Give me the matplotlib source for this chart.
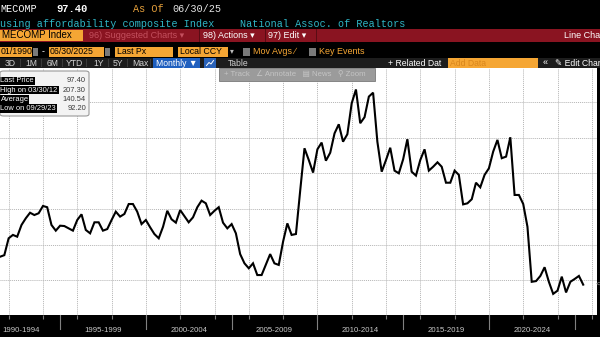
import numpy as np
import pandas as pd
import matplotlib
matplotlib.use("Agg")
import matplotlib.pyplot as plt
import matplotlib.dates as mdates
import matplotlib.transforms as mtransforms
from matplotlib.patches import Rectangle, FancyBboxPatch
from matplotlib.lines import Line2D

W, H = 600, 337

# quarterly housing affordability composite index, Q2 1991 .. Q2 2025
quarters = pd.date_range("1991-06-30", "2025-06-30", freq="QE")
affordability = [
    113.1, 114.0, 123.5,                      # 1991
    125.4, 124.4, 131.0, 134.8,               # 1992
    137.9, 136.6, 137.6, 141.7,               # 1993
    141.0, 131.0, 127.8, 130.6,               # 1994
    130.4, 129.1, 127.8, 133.8,               # 1995
    137.0, 128.2, 126.3, 132.5,               # 1996
    132.5, 127.8, 128.7, 133.8,               # 1997
    138.5, 135.7, 137.2, 142.8,               # 1998
    142.8, 138.5, 131.5, 133.8,               # 1999
    129.7, 125.9, 123.5, 130.0,               # 2000
    139.0, 134.2, 132.3, 139.4,               # 2001
    136.0, 132.5, 135.3, 141.0,               # 2002
    144.7, 143.2, 136.6, 139.0,               # 2003
    141.0, 132.3, 129.1, 131.5,               # 2004
    126.3, 114.6, 109.4, 106.6,               # 2005
    109.4, 102.8, 102.8, 108.8,               # 2006
    114.6, 109.4, 108.5, 121.6,               # 2007
    131.9, 125.4, 125.9, 150.7,               # 2008
    174.2, 167.6, 160.5, 173.6,               # 2009
    177.4, 167.2, 171.7, 182.6,               # 2010
    187.7, 177.9, 182.1, 199.5,               # 2011
    207.3, 188.3, 191.7, 203.3,               # 2012
    205.5, 177.9, 161.0, 167.6,               # 2013
    174.5, 161.6, 160.1, 168.0,               # 2014
    179.3, 161.0, 158.8, 167.6,               # 2015
    173.6, 161.6, 163.8, 166.3,               # 2016
    163.8, 154.8, 154.8, 161.6,               # 2017
    159.2, 142.6, 143.2, 145.5,               # 2018
    154.8, 152.2, 159.2, 162.9,               # 2019
    172.3, 178.9, 168.6, 169.5,               # 2020
    180.4, 147.9, 147.9, 142.8,               # 2021
    130.0, 99.0, 99.4, 102.3,                 # 2022
    107.2, 99.0, 92.2, 94.0,                  # 2023
    101.9, 93.0, 99.0, 100.6,                 # 2024
    102.3, 97.4,                              # 2025
]

band_labels = ["1990-1994", "1995-1999", "2000-2004", "2005-2009",
               "2010-2014", "2015-2019", "2020-2024"]
band_starts = [1990, 1995, 2000, 2005, 2010, 2015, 2020, 2025]

summary_rows = [("Last Price", "97.40"), ("High on 03/30/12", "207.30"),
                ("Average", "140.54"), ("Low on 09/29/23", "92.20")]

ORANGE = "#f5a634"
RED_BAR = "#8a1421"
MONO = ["Liberation Mono", "DejaVu Sans Mono"]
SANS = ["Liberation Sans", "DejaVu Sans"]


def box(fig, x0, y0, x1, y1, color, **kw):
    # rectangle in pixel coordinates, origin at top-left
    r = Rectangle((x0 / W, 1 - y1 / H), (x1 - x0) / W, (y1 - y0) / H,
                  transform=fig.transFigure, facecolor=color,
                  edgecolor=kw.pop("edgecolor", "none"), **kw)
    fig.patches.append(r)
    return r


def label(fig, x, y, s, color, size=6.5, ha="left", family=SANS, **kw):
    return fig.text(x / W, 1 - y / H, s, color=color, fontsize=size, ha=ha,
                    va="center", family=family, **kw)


fig = plt.figure(figsize=(W / 100, H / 100), dpi=100, facecolor="black")

# ---- chart area
ax = fig.add_axes([0, (H - 315) / H, 597 / W, 247 / H])
ax.set_facecolor("white")
ax.plot(quarters, affordability, color="black", lw=1.5, solid_joinstyle="miter")
ax.set_xlim(pd.Timestamp("1991-06-30"), pd.Timestamp("2026-04-20"))
ax.set_ylim(80.3, 219.4)
ax.xaxis.set_major_locator(mdates.YearLocator(2))
ax.set_yticks(np.arange(100, 220, 20))
ax.grid(True, color="#b4b4b4", linestyle=(0, (1, 1)), lw=0.7)
ax.tick_params(axis="x", direction="out", length=3, color="#7a7a7a",
               labelbottom=False)
ax.tick_params(axis="y", length=0, labelleft=False)
for s in ax.spines.values():
    s.set_visible(False)

# year bands along the bottom
trans = mtransforms.blended_transform_factory(ax.transData, ax.transAxes)
xmin = ax.get_xlim()[0]
for yr in band_starts:
    xd = mdates.date2num(pd.Timestamp(f"{yr}-01-01"))
    if xd > xmin:
        ax.plot([xd, xd], [0, -0.055], transform=trans, color="#808080",
                lw=0.8, clip_on=False)
for i, name in enumerate(band_labels):
    x0 = mdates.date2num(pd.Timestamp(f"{band_starts[i]}-01-01"))
    x1 = mdates.date2num(pd.Timestamp(f"{band_starts[i + 1]}-01-01"))
    if x0 < xmin:
        ax.text(xmin + 60, -0.062, name, transform=trans, ha="left",
                va="center", color="#c8c8c8", fontsize=5.6, family=SANS)
    else:
        ax.text((x0 + x1) / 2, -0.062, name, transform=trans, ha="center",
                va="center", color="#c8c8c8", fontsize=5.6, family=SANS)
label(fig, 596, 284, "<", "#9a9a9a", size=6)

# ---- header rows
label(fig, 0, 9, "MECOMP", "white", size=7.3, family=MONO)
label(fig, 56, 9, "97.40", "white", size=7.6, family=MONO, weight="bold")
label(fig, 133, 9, "As Of", "#e8a23c", size=7.3, family=MONO)
label(fig, 172, 9, "06/30/25", "#e6e6e6", size=7.3, family=MONO)
label(fig, 0, 24, "using affordability composite Index", "#2fb6c6",
      size=7.3, family=MONO)
label(fig, 240, 24, "National Assoc. of Realtors", "#2fb6c6",
      size=7.3, family=MONO)

# red command bar
box(fig, 0, 29, W, 42, RED_BAR)
box(fig, 0, 30, 83, 41, ORANGE)
label(fig, 2, 35.5, "MECOMP Index", "black", size=7)
label(fig, 89, 35.5, "96) Suggested Charts \u25be", "#c4505e", size=6.5)
box(fig, 199, 29, 200, 42, "#5a0c14")
label(fig, 203, 35.5, "98) Actions \u25be", "white", size=6.5)
box(fig, 265, 29, 266, 42, "#5a0c14")
label(fig, 268, 35.5, "97) Edit \u25be", "white", size=6.5)
box(fig, 316, 29, 317, 42, "#5a0c14")
label(fig, 564, 35.5, "Line Cha", "white", size=6.5)

# date range / field row
box(fig, 0, 47, 32, 57, ORANGE)
label(fig, 1, 52, "01/1990", "black", size=6.3)
box(fig, 33, 48, 38, 56, "#7a7a7a")
label(fig, 42, 52, "-", "white", size=6.3)
box(fig, 49, 47, 104, 57, ORANGE)
label(fig, 50, 52, "06/30/2025", "black", size=6.3)
box(fig, 105, 48, 110, 56, "#7a7a7a")
box(fig, 115, 47, 173, 57, ORANGE)
label(fig, 117, 52, "Last Px", "black", size=6.3)
box(fig, 178, 47, 228, 57, ORANGE)
label(fig, 180, 52, "Local CCY", "black", size=6.3)
label(fig, 230, 52, "\u25be", "#bbbbbb", size=5.5)
box(fig, 243, 48.5, 250, 55.5, "#7a7a7a")
label(fig, 253, 52, "Mov Avgs \u2215", ORANGE, size=6.5)
box(fig, 309, 48.5, 316, 55.5, "#7a7a7a")
label(fig, 319, 52, "Key Events", ORANGE, size=6.5)

# period buttons row
box(fig, 0, 58, W, 68, "#1d1d1d")
for txt, x in [("3D", 5), ("1M", 25), ("6M", 47), ("YTD", 66), ("1Y", 93),
               ("5Y", 113), ("Max", 132)]:
    label(fig, x, 63, txt, "#d0d0d0", size=6.2)
for x in [20, 41, 62, 86, 108, 127, 150]:
    box(fig, x, 59, x + 0.7, 67, "#3a3a3a")
box(fig, 153, 58, 200, 68, "#1f5fbf")
label(fig, 156, 63, "Monthly \u25bc", "white", size=6.2)
box(fig, 204, 58, 216, 68, "#2a62b8")
# small line-chart glyph on the chart-type button
fig.lines.append(Line2D(np.array([206.5, 209, 211, 213.5]) / W,
                        1 - np.array([65.5, 62.5, 64, 60.5]) / H,
                        transform=fig.transFigure, color="white", lw=0.7))
label(fig, 228, 63, "Table", "#d0d0d0", size=6.2)
label(fig, 388, 63, "+ Related Dat", "white", size=6.2)
box(fig, 448, 58.5, 538, 67.5, ORANGE)
label(fig, 450, 63, "Add Data", "#d9861c", size=6.2)
label(fig, 543, 63, "\u00ab", "white", size=6.5)
label(fig, 555, 63, "\u270e Edit Char", "white", size=6.2)

# floating chart toolbar
box(fig, 219, 68, 375, 81, "#9b9b9b", edgecolor="#7a7a7a", lw=0.6)
label(fig, 224, 74.5, "+ Track   \u2220 Annotate   \u25a4 News   \u26b2 Zoom",
      "#c4c4c4", size=5.6)

# summary tooltip
tip = FancyBboxPatch((0 / W, 1 - 116 / H), 89 / W, 45 / H,
                     boxstyle="round,pad=0,rounding_size=0.006",
                     transform=fig.transFigure, facecolor="#f3f3f3",
                     edgecolor="#9a9a9a", lw=0.8)
fig.patches.append(tip)
row_y = [81, 90, 99.3, 108.3]
for (name, val), y in zip(summary_rows, row_y):
    t = label(fig, 0.5, y, name, "white", size=5.4)
    t.set_bbox(dict(facecolor="black", edgecolor="none", pad=0.6))
    label(fig, 86, y, val, "#3a3a3a", size=5.4, ha="right")

fig.savefig("out.png", dpi=100, facecolor="black")
